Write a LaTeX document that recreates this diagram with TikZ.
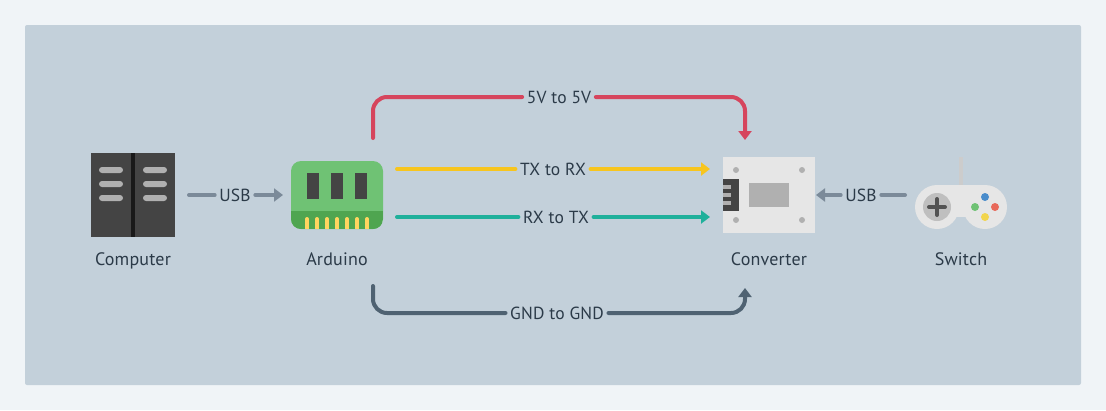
\documentclass[tikz,border=0pt]{standalone}
\usepackage{fontspec}
\setmainfont[LetterSpace=1]{PT Sans}
\usepackage{tikz}
\usetikzlibrary{calc,arrows.meta}

\definecolor{pagebg}{HTML}{F0F4F7}
\definecolor{panelbg}{HTML}{C3D0DA}
\definecolor{inktext}{HTML}{2B3A48}
\definecolor{usbwire}{HTML}{7B8A99}
\definecolor{vccwire}{HTML}{D6455D}
\definecolor{txwire}{HTML}{F7C51E}
\definecolor{rxwire}{HTML}{1FB09B}
\definecolor{gndwire}{HTML}{4F6272}
\definecolor{darkgrey}{HTML}{444444}
\definecolor{midgrey}{HTML}{B0B0B0}
\definecolor{lightgrey}{HTML}{E6E6E6}
\definecolor{boardgreen}{HTML}{6FC274}
\definecolor{edgegreen}{HTML}{4FA550}
\definecolor{pinyellow}{HTML}{FFD55F}
\definecolor{padblue}{HTML}{4A8CCB}
\definecolor{padgreen}{HTML}{6FC274}
\definecolor{padred}{HTML}{E8695A}
\definecolor{padyellow}{HTML}{F2D54E}

\tikzset{
    wire/.style={line width=4pt, line cap=round},
    wirehead/.style={wire, -{Triangle[length=9pt,width=13pt]}},
    wirelabel/.style={inner xsep=4.5pt, inner ysep=2pt, text=inktext, font=\fontsize{17.5}{20}\selectfont},
    caption/.style={anchor=base, text=inktext, font=\fontsize{18}{20}\selectfont},
    icon/.style={inner sep=0pt, outer sep=0pt},
}

\begin{document}
\begin{tikzpicture}[x=1pt,y=-1pt]
    \useasboundingbox (0,0) rectangle (1106,410);
    \fill[pagebg] (0,0) rectangle (1106,410);
    \fill[panelbg, rounded corners=2pt] (25,25) rectangle (1081,385);

    \node[icon, fill=darkgrey, minimum width=84pt, minimum height=84pt] (computer) at (133,195) {};
    \node[icon, fill=boardgreen, rounded corners=10pt, minimum width=92pt, minimum height=68pt] (arduino) at (337,195) {};
    \node[icon, fill=lightgrey, minimum width=92pt, minimum height=76pt] (converter) at (769,195) {};
    \node[icon, minimum width=92pt, minimum height=60pt] (switch) at (961,207) {};

    % computer
    \fill[black!90] (131,153) rectangle (135,237);
    \foreach \y in {167,181,195} {
        \fill[midgrey, rounded corners=3pt] (99,\y) rectangle (123,\y+6);
        \fill[midgrey, rounded corners=3pt] (143,\y) rectangle (167,\y+6);
    }

    % arduino
    \begin{scope}
        \clip[rounded corners=10pt] (291,161) rectangle (383,229);
        \fill[edgegreen] (291,211) rectangle (383,229);
    \end{scope}
    \foreach \x in {307,331,355}
        \fill[darkgrey] (\x,173) rectangle (\x+12,199);
    \foreach \x in {305,315,...,365} {
        \fill[pinyellow] (\x,219) rectangle (\x+4,229);
        \fill[pinyellow] (\x+2,219) circle[radius=2pt];
    }

    % converter
    \foreach \x in {736,802}
        \foreach \y in {170,220}
            \fill[midgrey] (\x,\y) circle[radius=3pt];
    \fill[midgrey] (749,183) rectangle (789,207);
    \fill[darkgrey] (723,179) rectangle (739,211);
    \foreach \y in {185,193,201}
        \fill[midgrey] (723,\y) rectangle (731,\y+4);

    % switch
    \fill[black!20] (959,157) rectangle (963,186);
    \fill[lightgrey] (937,207) circle[radius=22pt];
    \fill[lightgrey] (985,207) circle[radius=22pt];
    \fill[lightgrey] (937,185) rectangle (985,217);
    \fill[black!25] (937,207) circle[radius=14pt];
    \draw[black!68, line width=4pt, line cap=round] (929,207) -- (945,207);
    \draw[black!68, line width=4pt, line cap=round] (937,199) -- (937,215);
    \fill[padblue] (985,197) circle[radius=4pt];
    \fill[padgreen] (975,207) circle[radius=4pt];
    \fill[padred] (995,207) circle[radius=4pt];
    \fill[padyellow] (985,217) circle[radius=4pt];

    \node[caption] (computer label) at (133,265) {Computer};
    \node[caption] (arduino label) at (337,265) {Arduino};
    \node[caption] (converter label) at (769,265) {Converter};
    \node[caption] (switch label) at (961,265) {Switch};

    \coordinate (usb out) at ($(computer.east)+(14,0)$);
    \coordinate (usb in) at ($(arduino.west)+(-8,0)$);
    \coordinate (pad out) at ($(switch.west)+(-10,-12)$);
    \coordinate (pad in) at ($(converter.east)+(1,0)$);
    \coordinate (vcc out) at ($(arduino.north)+(36,-23)$);
    \coordinate (vcc in) at ($(converter.north)+(-24,-17)$);
    \coordinate (gnd out) at ($(arduino.south)+(36,57)$);
    \coordinate (gnd in) at ($(converter.south)+(-24,55)$);
    \coordinate (tx out) at ($(arduino.east)+(14,-26)$);
    \coordinate (tx in) at ($(converter.west)+(-13,-26)$);
    \coordinate (rx out) at ($(arduino.east)+(14,22)$);
    \coordinate (rx in) at ($(converter.west)+(-13,22)$);

    \node[wirelabel] (usb left) at (235,195) {USB};
    \node[wirelabel] (usb right) at (861,195) {USB};
    \node[wirelabel] (vcc label) at (559,97) {5V to 5V};
    \node[wirelabel] (tx label) at (553,169) {TX to RX};
    \node[wirelabel] (rx label) at (556,217) {RX to TX};
    \node[wirelabel] (gnd label) at (557,313) {GND to GND};

    \draw[wire, usbwire] (usb out) -- (usb left);
    \draw[wirehead, usbwire] (usb left) -- (usb in);
    \draw[wire, usbwire] (pad out) -- (usb right);
    \draw[wirehead, usbwire] (usb right) -- (pad in);

    \draw[wire, vccwire, rounded corners=14pt] (vcc out) |- (vcc label);
    \draw[wirehead, vccwire, rounded corners=14pt] (vcc label) -| (vcc in);
    \draw[wire, txwire] (tx out) -- (tx label);
    \draw[wirehead, txwire] (tx label) -- (tx in);
    \draw[wire, rxwire] (rx out) -- (rx label);
    \draw[wirehead, rxwire] (rx label) -- (rx in);
    \draw[wire, gndwire, rounded corners=14pt] (gnd out) |- (gnd label);
    \draw[wirehead, gndwire, rounded corners=14pt] (gnd label) -| (gnd in);
\end{tikzpicture}
\end{document}
